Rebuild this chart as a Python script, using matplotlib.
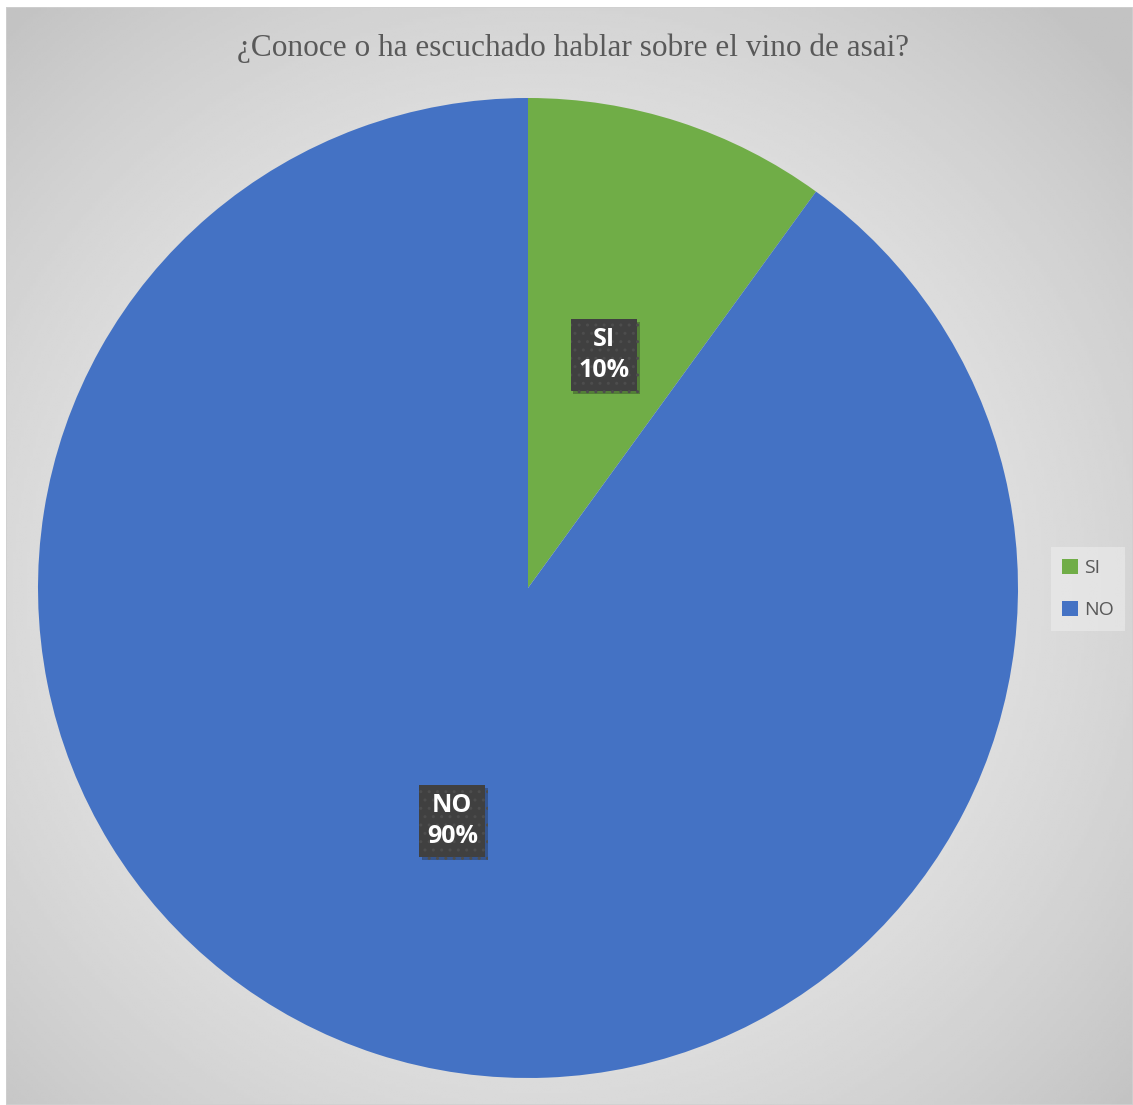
import numpy as np
import matplotlib
matplotlib.use("Agg")
import matplotlib.pyplot as plt
import matplotlib.patheffects as pe

categories = ["SI", "NO"]
values = [10, 90]
colors = ["#70AD47", "#4472C4"]
title = "¿Conoce o ha escuchado hablar sobre el vino de asai?"

W, H = 1133, 1105
fig = plt.figure(figsize=(W / 100, H / 100), dpi=100)
fig.patch.set_facecolor("white")

# radial gray background of the chart area
bg = fig.add_axes([6 / W, 0, (W - 6) / W, (H - 7) / H])
yy, xx = np.mgrid[0:400, 0:400]
r = np.hypot((xx - 190) / 200, (yy - 212) / 200)
shade = 0.935 - 0.17 * np.clip(r / 1.4, 0, 1) ** 1.8
bg.imshow(shade, cmap="gray", vmin=0, vmax=1, aspect="auto", extent=[0, 1, 0, 1])
bg.set_axis_off()
bg.add_patch(plt.Rectangle((0, 0), 1, 1, transform=bg.transAxes, fill=False,
                           edgecolor="#d0d0d0", lw=1.2))

# pie
ax = fig.add_axes([38 / W, (H - 1078) / H, 980 / W, 980 / H])
wedges, _ = ax.pie(values, colors=colors, startangle=90, counterclock=False,
                   wedgeprops=dict(linewidth=0))
ax.set_xlim(-1, 1)
ax.set_ylim(-1, 1)
ax.set_aspect("equal")

for w, cat, v in zip(wedges, categories, values):
    mid = np.deg2rad((w.theta1 + w.theta2) / 2)
    t = ax.text(0.5 * np.cos(mid), 0.5 * np.sin(mid), f"{cat}\n{v}%",
                ha="center", va="center", color="white", fontsize=18,
                fontweight="bold", family="Open Sans", linespacing=1.35,
                bbox=dict(boxstyle="square,pad=0.3", facecolor="#404040",
                          edgecolor="#4d4d4d", hatch="..", linewidth=0))
    t.get_bbox_patch().set_path_effects(
        [pe.SimplePatchShadow(offset=(2, -2), alpha=0.3), pe.Normal()])

fig.text(573 / W, 1 - 48 / H, title, ha="center", va="center",
         family="Liberation Serif", fontsize=22.5, color="#595959")

leg = fig.legend(wedges, categories, loc="center", bbox_to_anchor=(1088 / W, 1 - 589 / H),
                 frameon=True, handlelength=0.8, handleheight=0.8,
                 handletextpad=0.3, labelspacing=1.2, borderpad=0.6,
                 prop=dict(family="Open Sans", size=14))
leg.get_frame().set_facecolor("#f0f0f0")
leg.get_frame().set_alpha(0.5)
leg.get_frame().set_linewidth(0)
leg.get_frame().set_boxstyle("square", pad=0)
for txt in leg.get_texts():
    txt.set_color("#595959")

fig.savefig("out.png", dpi=100, facecolor="white")
